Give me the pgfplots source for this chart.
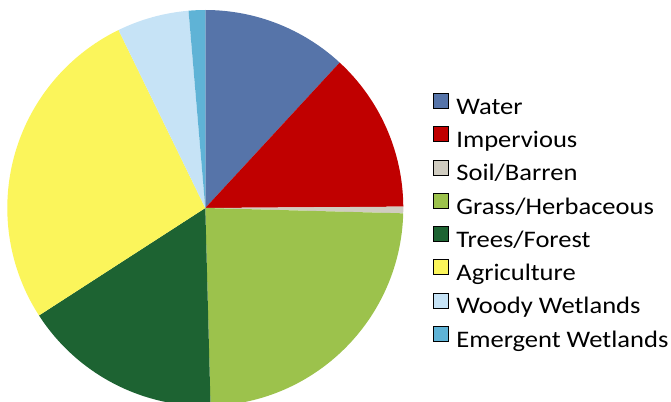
\documentclass[border=0pt]{standalone}
\usepackage{pgfplots}
\pgfplotsset{compat=1.18}
\usepackage{fontspec}
\setmainfont{Carlito}
\newfontfamily\legfont{Carlito}[FakeStretch=1.12]
\definecolor{cwater}{HTML}{5674A9}
\definecolor{cimp}{HTML}{C00000}
\definecolor{csoil}{HTML}{D0CCC0}
\definecolor{cgrass}{HTML}{9CC24C}
\definecolor{ctrees}{HTML}{1D6332}
\definecolor{cagri}{HTML}{FBF55B}
\definecolor{cwoody}{HTML}{C6E3F6}
\definecolor{cemer}{HTML}{5FB3D6}
\begin{document}
\begin{tikzpicture}
\begin{axis}[
  hide axis, x=1bp, y=1bp,
  xmin=0, xmax=671, ymin=0, ymax=402,
  enlargelimits=false, clip=false,
  legend image code/.code={\fill[#1] (0bp,0bp) rectangle (14.7bp,15bp);},
  legend cell align=left,
  legend style={at={(axis cs:433.3,309)}, anchor=north west, draw=none, fill=none,
    inner sep=0pt, outer sep=0pt,
    font=\legfont\fontsize{23.7bp}{28bp}\selectfont,
    /tikz/column sep=8bp, /tikz/row sep=6.1bp,
    nodes={inner sep=0pt, outer sep=0pt, text height=18bp, text depth=6bp}},
]
\addlegendimage{fill=cwater}\addlegendentry{Water}
\addlegendimage{fill=cimp}\addlegendentry{Impervious}
\addlegendimage{fill=csoil}\addlegendentry{Soil/Barren}
\addlegendimage{fill=cgrass}\addlegendentry{Grass/Herbaceous}
\addlegendimage{fill=ctrees}\addlegendentry{Trees/Forest}
\addlegendimage{fill=cagri}\addlegendentry{Agriculture}
\addlegendimage{fill=cwoody}\addlegendentry{Woody Wetlands}
\addlegendimage{fill=cemer}\addlegendentry{Emergent Wetlands}
\xdef\cum{90}
\foreach \v/\c in {11.87/cwater, 13.02/cimp, 0.54/csoil, 24.15/cgrass, 16.29/ctrees, 26.91/cagri, 5.87/cwoody, 1.35/cemer}{
  \pgfmathsetmacro\endang{\cum-3.6*\v}
  \edef\tmp{\noexpand\fill[\c] (axis cs:205.3,194) -- ++(\cum:198bp) arc[start angle=\cum, end angle=\endang, radius=198bp] -- cycle;}
  \tmp
  \xdef\cum{\endang}
}
\end{axis}
\pgfresetboundingbox
\path[use as bounding box] (0,0) rectangle (671bp,402bp);
\end{tikzpicture}
\end{document}
